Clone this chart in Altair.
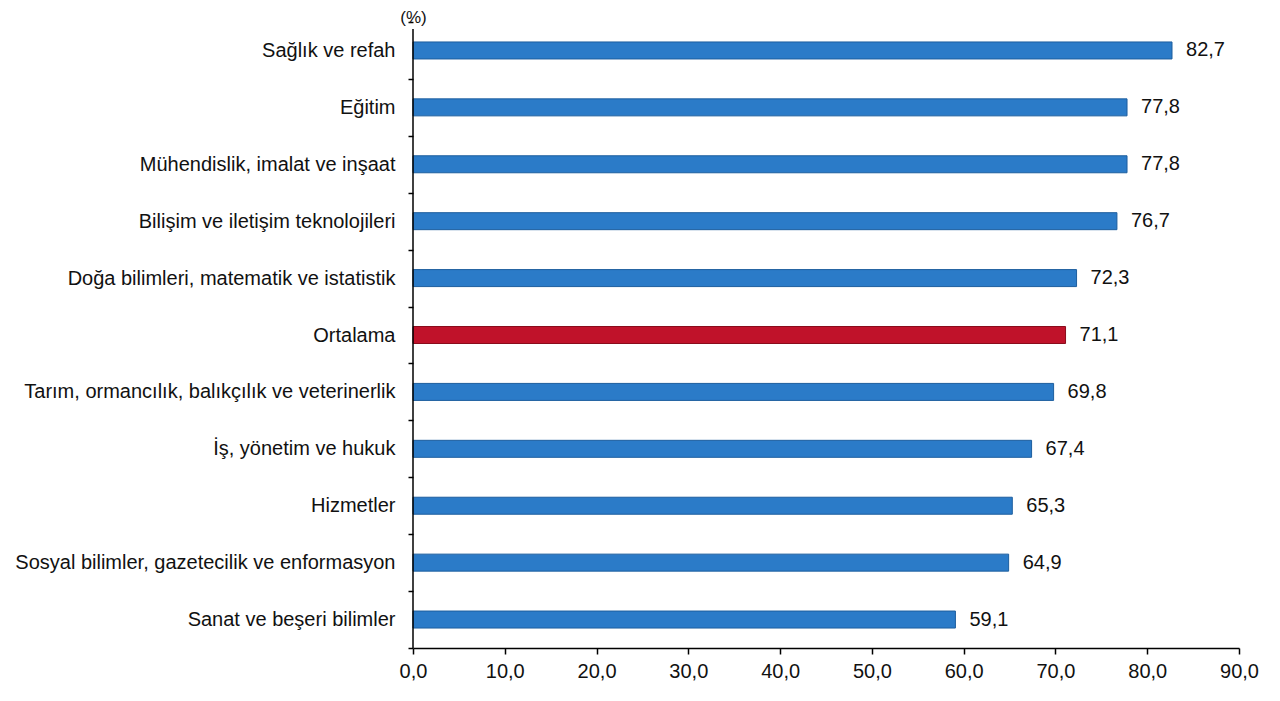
import altair as alt
import pandas as pd

categories = [
    "Sağlık ve refah",
    "Eğitim",
    "Mühendislik, imalat ve inşaat",
    "Bilişim ve iletişim teknolojileri",
    "Doğa bilimleri, matematik ve istatistik",
    "Ortalama",
    "Tarım, ormancılık, balıkçılık ve veterinerlik",
    "İş, yönetim ve hukuk",
    "Hizmetler",
    "Sosyal bilimler, gazetecilik ve enformasyon",
    "Sanat ve beşeri bilimler",
]
values = [82.7, 77.8, 77.8, 76.7, 72.3, 71.1, 69.8, 67.4, 65.3, 64.9, 59.1]
groups = ["alan"] * 5 + ["ortalama"] + ["alan"] * 5

df = pd.DataFrame({"kategori": categories, "deger": values, "grup": groups})

FONT = "Liberation Sans"
FS = 20

y_enc = alt.Y(
    "kategori:N",
    sort=categories,
    scale=alt.Scale(paddingInner=0, paddingOuter=0),
    axis=alt.Axis(
        title="(%)",
        titleAngle=0,
        titleAlign="center",
        titleBaseline="middle",
        titleX=0,
        titleY=-5,
        titleFont=FONT,
        titleFontSize=17,
        titleFontWeight="normal",
        titleColor="#111111",
        labelFont=FONT,
        labelFontSize=FS,
        labelColor="#111111",
        labelPadding=13,
        labelLimit=420,
        tickBand="extent",
        tickSize=5,
        tickColor="#000000",
        tickWidth=1.5,
        domain=False,
    ),
)

x_enc = alt.X(
    "deger:Q",
    scale=alt.Scale(domain=[0, 90], nice=False, zero=True),
    axis=alt.Axis(
        title=None,
        values=[0, 10, 20, 30, 40, 50, 60, 70, 80, 90],
        labelExpr="replace(format(datum.value, '.1f'), '.', ',')",
        labelFont=FONT,
        labelFontSize=FS,
        labelColor="#111111",
        labelPadding=7,
        tickSize=6,
        tickColor="#000000",
        domainColor="#000000",
        domainWidth=1.5,
        tickWidth=1.5,
        grid=False,
        labelFlush=False,
    ),
)

color_enc = alt.Color(
    "grup:N",
    scale=alt.Scale(domain=["alan", "ortalama"], range=["#2B7BC8", "#C0122A"]),
    legend=None,
)
stroke_enc = alt.Stroke(
    "grup:N",
    scale=alt.Scale(domain=["alan", "ortalama"], range=["#1D5E9E", "#8A0C1C"]),
    legend=None,
)

base = alt.Chart(df)

bars = base.mark_bar(strokeWidth=1, size=17).encode(
    y=y_enc, x=x_enc, color=color_enc, stroke=stroke_enc
)

labels = base.transform_calculate(
    etiket="replace(format(datum.deger, '.1f'), '.', ',')"
).mark_text(
    align="left", baseline="middle", dx=14, font=FONT, fontSize=FS, color="#111111"
).encode(
    y=alt.Y("kategori:N", sort=categories),
    x="deger:Q",
    text="etiket:N",
)

y_axis_line = alt.Chart(pd.DataFrame({"k": [0]})).mark_rule(
    color="#000000", strokeWidth=1.5
).encode(x=alt.value(0), y=alt.value(7), y2=alt.value(626))

chart = (
    alt.layer(bars, labels, y_axis_line)
    .properties(
        width=826,
        height=626,
        autosize=alt.AutoSizeParams(type="none"),
        padding={"left": 405, "top": 14, "right": 30, "bottom": 45},
        background="white",
    )
    .configure_view(stroke=None)
)

chart.save("out.html", embed_options={"renderer": "svg", "actions": False})
